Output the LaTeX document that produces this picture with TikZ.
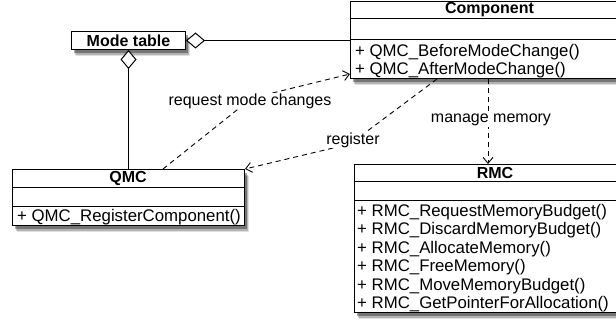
\documentclass[tikz,border=0pt]{standalone}
\usepackage{fontspec}
\setmainfont{Liberation Sans}
\usetikzlibrary{arrows.meta,shadows,calc}
\begin{document}
\begin{tikzpicture}[x=1pt,y=-1pt,
  font=\fontsize{16}{18.5}\selectfont,
  box/.style={draw=black, line width=1pt, fill=white, inner sep=0pt, anchor=north west,
    general shadow={shadow xshift=4.5pt, shadow yshift=-7pt, fill=black, opacity=0.12},
    general shadow={shadow xshift=3.5pt, shadow yshift=-5.5pt, fill=black, opacity=0.2},
    general shadow={shadow xshift=2.5pt, shadow yshift=-4pt, fill=black, opacity=0.35}},
  sepline/.style={line width=1pt},
  dep/.style={line width=0.9pt, dash pattern=on 5pt off 4pt, -{Straight Barb[length=6pt,width=10pt]}},
  lbl/.style={fill=white, inner sep=1pt},
  meth/.style={anchor=base west, inner sep=0pt, font=\fontsize{16.8}{18.5}\selectfont},
  ttl/.style={font=\fontsize{16}{18.5}\selectfont\bfseries, inner sep=0pt},
  agg/.style={line width=1pt, {Diamond[fill=white,length=19pt,width=16pt]}-}]

\useasboundingbox (0,0) rectangle (616,320);

% ---- boxes ----
\node[box, minimum width=279pt, minimum height=77pt] (comp) at (350,1) {};
\node[box, minimum width=282pt, minimum height=148pt] (rmc) at (354,164) {};
\node[box, minimum width=232pt, minimum height=56pt] (qmc) at (12,169) {};
\node[box, minimum width=114pt, minimum height=18pt, font=\fontsize{16}{18.5}\selectfont\bfseries] (mt) at (71,31) {Mode table};

% separators
\draw[sepline] ($(comp.north west)+(0,18)$) -- ++(279,0);
\draw[sepline] ($(comp.north west)+(0,39)$) -- ++(279,0);
\draw[sepline] ($(rmc.north west)+(0,18)$) -- ++(282,0);
\draw[sepline] ($(rmc.north west)+(0,37)$) -- ++(282,0);
\draw[sepline] ($(qmc.north west)+(0,19)$) -- ++(232,0);
\draw[sepline] ($(qmc.north west)+(0,38)$) -- ++(232,0);

% titles
\node[ttl] (compt) at (489.5,10) {Component};
\node[ttl] (rmct) at (495,173) {RMC};
\node[ttl] (qmct) at (128,178) {QMC};

% methods
\node[meth] (cm1) at (355,56.5) {+ QMC\_BeforeModeChange()};
\node[meth] (cm2) at (355,75) {+ QMC\_AfterModeChange()};
\node[meth] (qm1) at (17,222) {+ QMC\_RegisterComponent()};
\node[meth] (rm1) at (357,216.5) {+ RMC\_RequestMemoryBudget()};
\node[meth] (rm2) at (357,235) {+ RMC\_DiscardMemoryBudget()};
\node[meth] (rm3) at (357,253.5) {+ RMC\_AllocateMemory()};
\node[meth] (rm4) at (357,272) {+ RMC\_FreeMemory()};
\node[meth] (rm5) at (357,290.5) {+ RMC\_MoveMemoryBudget()};
\node[meth] (rm6) at (357,309) {+ RMC\_GetPointerForAllocation()};

% ---- aggregations ----
\draw[agg] (mt.east) -- (mt.east -| comp.west);
\draw[agg] (mt.south) -- (mt.south |- qmc.north);

% ---- dependencies ----
\coordinate (rqbend) at (252,98);
\coordinate (rgbend) at (350,144);
\coordinate (qmcstart) at ($(qmc.north west)+(151,0)$);
\coordinate (compend) at ($(comp.north west)+(0,73)$);
\coordinate (regstart) at ($(comp.south west)+(87,0)$);
\coordinate (memstart) at ($(comp.south west)+(138,0)$);
\coordinate (memend) at (memstart |- rmc.north);

\draw[dep] (qmcstart) -- (rqbend) -- (compend);
\draw[dep] (regstart) -- (rgbend) -- (qmc.north east);
\draw[dep] (memstart) -- (memend);

\node[lbl] (lreq) at (250,101) {request mode changes};
\node[lbl] (lreg) at (353,140) {register};
\node[lbl] (lmem) at (491,120) {manage memory};
\end{tikzpicture}
\end{document}
